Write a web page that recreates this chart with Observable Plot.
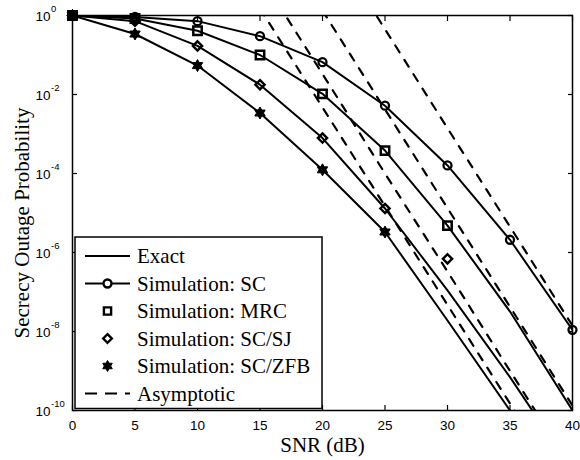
<!DOCTYPE html>
<html><head><meta charset="utf-8">
<script src="https://cdn.jsdelivr.net/npm/d3@7"></script>
<script src="https://cdn.jsdelivr.net/npm/@observablehq/plot@0.6"></script>
<style>
body{margin:0;background:#fff;}
#chart{position:relative;width:580px;height:460px;}
</style></head><body><div id="chart"></div>
<script>
// ---- data ----
const snr = [0, 5, 10, 15, 20, 25, 30, 35, 40];
const exactSC  = [1, 0.92, 0.72, 0.30, 0.066, 5.2e-3, 1.6e-4, 2.1e-6, 1.1e-8];
const exactMRC = [1, 0.84, 0.41, 0.10, 0.0104, 3.8e-4, 4.8e-6, 3.2e-8, 1.0e-10];
const exactSJ  = [1, 0.72, 0.17, 0.0177, 7.9e-4, 1.3e-5, 1.1e-7, 7.0e-10, 3.0e-12];
const exactZFB = [1, 0.34, 0.054, 3.4e-3, 1.24e-4, 3.3e-6, 1.9e-8, 1.0e-10, 4.5e-13];

const simSNR_SC  = [0, 5, 10, 15, 20, 25, 30, 35, 40];
const simSC      = [1, 0.92, 0.72, 0.30, 0.066, 5.2e-3, 1.6e-4, 2.1e-6, 1.1e-8];
const simSNR_MRC = [0, 5, 10, 15, 20, 25, 30];
const simMRC     = [1, 0.84, 0.41, 0.10, 0.0104, 3.8e-4, 4.8e-6];
const simSNR_SJ  = [0, 5, 10, 15, 20, 25, 30];
const simSJ      = [1, 0.72, 0.17, 0.0177, 7.9e-4, 1.3e-5, 6.9e-7];
const simSNR_ZFB = [0, 5, 10, 15, 20, 25];
const simZFB     = [1, 0.34, 0.054, 3.4e-3, 1.24e-4, 3.3e-6];

const asymSNR_ZFB = [15, 20, 25, 30, 35, 40];
const asymZFB     = [1.5, 4.7e-3, 1.5e-5, 4.7e-8, 1.5e-10, 4.7e-13];
const asymSNR_SJ  = [15, 20, 25, 30, 35, 40];
const asymSJ      = [10.4, 3.3e-2, 1.0e-4, 3.3e-7, 1.0e-9, 3.3e-12];
const asymSNR_MRC = [20, 25, 30, 35, 40];
const asymMRC     = [1.33, 4.2e-3, 1.33e-5, 4.2e-8, 1.33e-10];
const asymSNR_SC  = [20, 25, 30, 35, 40];
const asymSC      = [141, 0.45, 1.4e-3, 4.5e-6, 1.4e-8];

const xTicks = [0, 5, 10, 15, 20, 25, 30, 35, 40];
const yTicks = [1, 1e-2, 1e-4, 1e-6, 1e-8, 1e-10];
const yTickBase = "10";
const yTickExp = ["0", "-2", "-4", "-6", "-8", "-10"];
const xLabel = "SNR (dB)";
const yLabel = "Secrecy Outage Probability";
const legendLabels = ["Exact", "Simulation: SC", "Simulation: MRC", "Simulation: SC/SJ", "Simulation: SC/ZFB", "Asymptotic"];

// ---- helpers ----
const rows = (xs, ys, name) => xs.map((x, i) => ({snr: x, p: ys[i], s: name}));
const exactRows = [].concat(rows(snr, exactSC, "SC"), rows(snr, exactMRC, "MRC"), rows(snr, exactSJ, "SJ"), rows(snr, exactZFB, "ZFB"));
const asymRows = [].concat(rows(asymSNR_SC, asymSC, "SC"), rows(asymSNR_MRC, asymMRC, "MRC"), rows(asymSNR_SJ, asymSJ, "SJ"), rows(asymSNR_ZFB, asymZFB, "ZFB"));

const rad = size => Math.sqrt(size / Math.PI);
const circleSym = {draw(c, size){ const r = rad(size); c.moveTo(r, 0); c.arc(0, 0, r, 0, 2 * Math.PI); c.closePath(); }};
const squareSym = {draw(c, size){ const r = rad(size); c.moveTo(-r, -r); c.lineTo(r, -r); c.lineTo(r, r); c.lineTo(-r, r); c.closePath(); }};
const diamondSym = {draw(c, size){ const r = rad(size); c.moveTo(0, -r); c.lineTo(r, 0); c.lineTo(0, r); c.lineTo(-r, 0); c.closePath(); }};
const hexSym = {draw(c, size){ const R = rad(size), ri = R / Math.sqrt(3);
  for (let i = 0; i < 12; i++) { const a = (-90 + 30 * i) * Math.PI / 180, rr = i % 2 === 0 ? R : ri;
    const px = rr * Math.cos(a), py = rr * Math.sin(a); if (i === 0) c.moveTo(px, py); else c.lineTo(px, py); }
  c.closePath(); }};

const serif = "'Liberation Serif', 'Times New Roman', serif";
const sans = "'Liberation Sans', Arial, sans-serif";

const plot = Plot.plot({
  width: 580, height: 460,
  marginLeft: 72, marginRight: 8, marginTop: 15, marginBottom: 50,
  style: {fontFamily: sans, fontSize: "13.5px", background: "white", overflow: "visible"},
  x: {type: "linear", domain: [0, 40], axis: null},
  y: {type: "log", domain: [1e-10, 1], axis: null},
  marks: [
    Plot.line(asymRows, {x: "snr", y: "p", z: "s", stroke: "black", strokeWidth: 2.2, strokeDasharray: "8,9", clip: true}),
    Plot.line(exactRows, {x: "snr", y: "p", z: "s", stroke: "black", strokeWidth: 2, clip: true}),
    Plot.dot(rows(simSNR_SC, simSC, "SC"), {x: "snr", y: "p", symbol: circleSym, r: 4, stroke: "black", strokeWidth: 2.3, fill: "none"}),
    Plot.dot(rows(simSNR_MRC, simMRC, "MRC"), {x: "snr", y: "p", symbol: squareSym, r: 4.2, stroke: "black", strokeWidth: 2.5, fill: "none"}),
    Plot.dot(rows(simSNR_SJ, simSJ, "SJ"), {x: "snr", y: "p", symbol: diamondSym, r: 4.6, stroke: "black", strokeWidth: 2.4, fill: "none"}),
    Plot.dot(rows(simSNR_ZFB, simZFB, "ZFB"), {x: "snr", y: "p", symbol: hexSym, r: 6, stroke: "black", strokeWidth: 1, fill: "black"}),
    Plot.frame({stroke: "black", strokeWidth: 1.5}),
    // inward ticks on all four sides
    Plot.axisX(xTicks, {anchor: "bottom", label: null, tickSize: -5, strokeWidth: 1.2, tickFormat: () => ""}),
    Plot.axisX(xTicks, {anchor: "top", label: null, tickSize: -5, strokeWidth: 1.2, tickFormat: () => ""}),
    Plot.axisY(yTicks, {anchor: "left", label: null, tickSize: -5, strokeWidth: 1.2, tickFormat: () => ""}),
    Plot.axisY(yTicks, {anchor: "right", label: null, tickSize: -5, strokeWidth: 1.2, tickFormat: () => ""}),
    // tick labels
    Plot.axisX(xTicks, {anchor: "bottom", label: null, tickSize: 0, tickPadding: 10, fontSize: 13.5, fontFamily: sans, fill: "black", tickFormat: d => String(d)}),
    Plot.axisY(yTicks, {anchor: "left", label: null, tickSize: 0, tickPadding: 37, textAnchor: "start", fontSize: 13.5, fontFamily: sans, fill: "black", dy: 1, tickFormat: () => yTickBase}),
    Plot.axisY(yTicks, {anchor: "left", label: null, tickSize: 0, tickPadding: 21.5, textAnchor: "start", fontSize: 9.5, fontFamily: sans, fill: "black", dy: -6.5, tickFormat: d => yTickExp[yTicks.indexOf(d)]}),
    // axis titles
    Plot.text([xLabel], {frameAnchor: "bottom", textAnchor: "middle", lineAnchor: "middle", dy: 35, text: d => d, fontSize: 21, fontFamily: serif, fill: "black"}),
    Plot.text([yLabel], {frameAnchor: "left", textAnchor: "middle", lineAnchor: "middle", rotate: -90, dx: -50, dy: 10, text: d => d, fontSize: 21, fontFamily: serif, fill: "black"})
  ]
});
document.getElementById("chart").appendChild(plot);

// ---- legend (inside the axes, lower left) ----
const svg = d3.select(plot);
const lg = svg.append("g");
lg.append("rect").attr("x", 75).attr("y", 237).attr("width", 247).attr("height", 171.5)
  .attr("fill", "white").attr("stroke", "black").attr("stroke-width", 1.5);
const y0 = 256, dyL = 27.5, lx1 = 85, lx2 = 130, mx = 107.5, tx = 137;
const legendStyle = [
  {line: "solid"}, {line: "solid", sym: circleSym, r: 4, fill: "none"},
  {sym: squareSym, r: 3.6, fill: "none"}, {sym: diamondSym, r: 4.3, fill: "none"},
  {sym: hexSym, r: 5.5, fill: "black"}, {line: "dash"}
];
legendLabels.forEach((label, i) => {
  const y = y0 + i * dyL, st = legendStyle[i];
  if (st.line) lg.append("line").attr("x1", lx1).attr("x2", lx2).attr("y1", y).attr("y2", y)
    .attr("stroke", "black").attr("stroke-width", 2.2).attr("stroke-dasharray", st.line === "dash" ? "12,8" : null);
  if (st.sym) { const p = d3.path(); st.sym.draw(p, Math.PI * st.r * st.r);
    lg.append("path").attr("d", p.toString()).attr("transform", `translate(${mx},${y})`)
      .attr("fill", st.fill === "none" ? "white" : "black").attr("stroke", "black").attr("stroke-width", st.fill === "none" ? 2.4 : 1); }
  lg.append("text").attr("x", tx).attr("y", y).attr("dy", "0.35em").attr("text-anchor", "start")
    .attr("font-family", serif).attr("font-size", 21).attr("fill", "black").text(label);
});
</script></body></html>
